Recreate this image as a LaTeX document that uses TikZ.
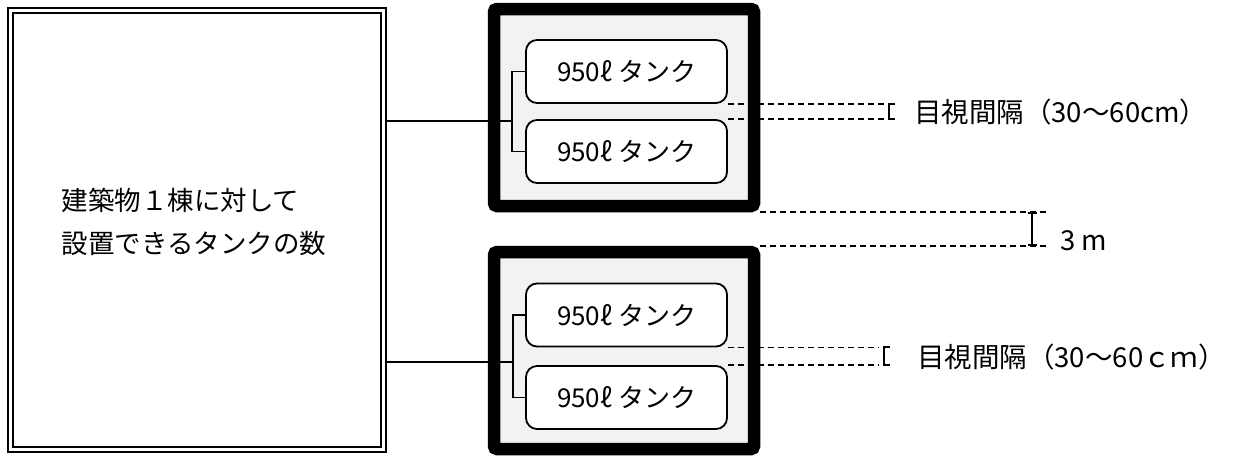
\documentclass[tikz,border=0pt]{standalone}
\usepackage{fontspec}
\setmainfont{Noto Sans CJK JP}
\usetikzlibrary{arrows.meta,positioning}

\begin{document}
\begin{tikzpicture}[x=1pt, y=-1pt]
\tikzstyle{building} = [draw, double, line width=2pt, double distance=3pt,
  minimum width=373pt, minimum height=439pt]
\tikzstyle{caption} = [align=left, font=\fontsize{26.5}{43}\selectfont]
\tikzstyle{yard} = [draw, line width=12.5pt, fill=black!5, rounded corners=3pt,
  minimum width=260pt, minimum height=197pt]
\tikzstyle{tank} = [draw, line width=1.8pt, fill=white, rounded corners=11pt,
  minimum width=201pt, minimum height=63pt, font=\fontsize{26}{30}\selectfont]
\tikzstyle{pipe} = [line width=1.8pt]
\tikzstyle{gap} = [line width=1.7pt, dash pattern=on 6pt off 4pt]
\tikzstyle{dimbar} = [line width=2pt]
\tikzstyle{note} = [anchor=west, inner sep=0pt, font=\fontsize{27.5}{30}\selectfont]

\useasboundingbox (0,0) rectangle (1239,456);

\node[building] (house) at (197,230) {};
\node[caption] (houseText) at (194,222) {建築物１棟に対して\\設置できるタンクの数};

% upper yard
\node[yard] (yardA) at (624,107.5) {};
\node[tank] (tankA1) at (626.5,71.5) {950ℓ タンク};
\node[tank] (tankA2) at (626.5,151.5) {950ℓ タンク};
\coordinate (forkA) at (512,121);
\draw[pipe] (house.east |- forkA) -- (forkA);
\draw[pipe] (tankA1.west) -| (forkA) |- (tankA2.west);

% lower yard
\node[yard] (yardB) at (624,350.5) {};
\node[tank] (tankB1) at (626.5,315) {950ℓ タンク};
\node[tank] (tankB2) at (626.5,397.5) {950ℓ タンク};
\coordinate (forkB) at (513,362);
\draw[pipe] (house.east |- forkB) -- (forkB);
\draw[pipe] (tankB1.west) -| (forkB) |- (tankB2.west);

% spacing between tanks
\coordinate (dimA) at (884,0);
\coordinate (barA) at (889,0);
\draw[gap] (tankA1.south east) -- (tankA1.south east -| dimA);
\draw[gap] (tankA2.north east) -- (tankA2.north east -| dimA);
\draw[dimbar] (tankA1.south east -| barA) ++(6,0) -| (tankA2.north east -| barA) -- ++(6,0);
\node[note] (noteA) at (914,112) {目視間隔（30～60cm）};

\coordinate (dimB) at (878,0);
\coordinate (barB) at (884,0);
\draw[gap] (tankB1.south east) -- (tankB1.south east -| dimB);
\draw[gap] (tankB2.north east) -- (tankB2.north east -| dimB);
\draw[dimbar] (tankB1.south east -| barB) ++(6,0) -| (tankB2.north east -| barB) -- ++(6,0);
\node[note] (noteB) at (917,357) {目視間隔（30～60ｃｍ）};

% spacing between yards
\coordinate (dimC) at (1050,0);
\coordinate (barC) at (1032,0);
\draw[gap] (yardA.south east) -- (yardA.south east -| dimC);
\draw[gap] (yardB.north east) -- (yardB.north east -| dimC);
\draw[dimbar, {Bar[width=9pt]}-{Bar[width=9pt]}] (yardA.south east -| barC) -- (yardB.north east -| barC);
\node[note] (noteC) at (1060,241) {3 m};
\end{tikzpicture}
\end{document}
